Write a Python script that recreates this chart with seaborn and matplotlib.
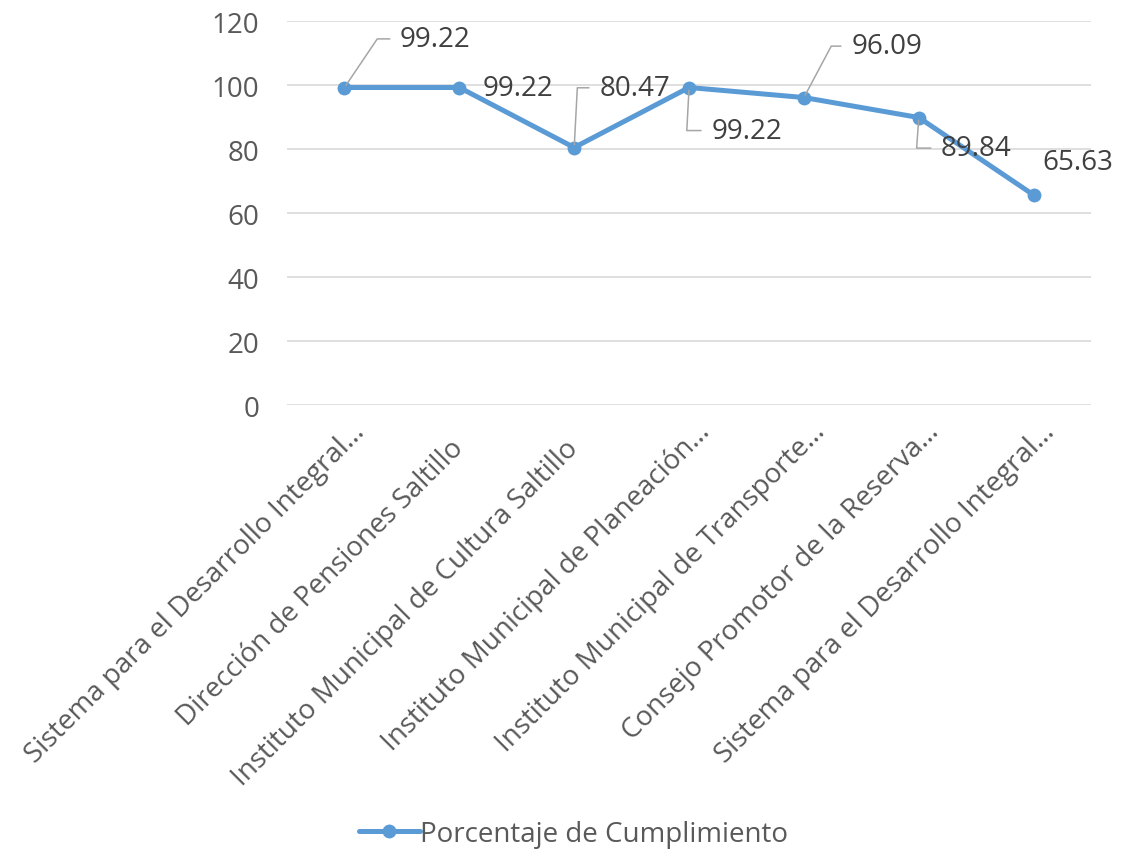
import numpy as np
import pandas as pd
import matplotlib
matplotlib.use("Agg")
import matplotlib.pyplot as plt
import matplotlib.transforms as mtransforms
import seaborn as sns

# data
categories = [
    "Sistema para el Desarrollo Integral…",
    "Dirección de Pensiones Saltillo",
    "Instituto Municipal de Cultura Saltillo",
    "Instituto Municipal de Planeación…",
    "Instituto Municipal de Transporte…",
    "Consejo Promotor de la Reserva…",
    "Sistema para el Desarrollo Integral…",
]
cumplimiento = [99.22, 99.22, 80.47, 99.22, 96.09, 89.84, 65.63]
series_name = "Porcentaje de Cumplimiento"
y_ticks = [0, 20, 40, 60, 80, 100, 120]

# label offsets in points and leader angle (None = no leader)
label_offsets = [(40, 35), (17, 0), (18, 43), (16, -31), (34, 37), (16, -22), (6, 24)]
leader_angles = [56, None, 87, 87, 62, 86, None]

sns.set_theme(style="whitegrid")
plt.rcParams["font.family"] = ["Open Sans", "DejaVu Sans"]

blue = "#5B9BD5"
txt = "#404040"
tick_col = "#595959"
grid_col = "#D9D9D9"

df = pd.DataFrame({"pos": np.arange(len(categories)), "valor": cumplimiento})

fig = plt.figure(figsize=(11.35, 8.53), dpi=100)
ax = fig.add_axes([0.2529, 0.5240, 0.7084, 0.4502])

sns.lineplot(data=df, x="pos", y="valor", ax=ax, color=blue, linewidth=3.6,
             marker="o", markersize=10, markeredgewidth=0, label=series_name,
             legend=False)

ax.set_xlim(-0.5, len(categories) - 0.5)
ax.set_ylim(0, 120)
ax.set_yticks(y_ticks)
ax.set_xticks(df["pos"])
ax.set_xticklabels(categories, rotation=45, ha="right", va="center",
                   rotation_mode="anchor")
ax.set_xlabel("")
ax.set_ylabel("")
ax.grid(axis="y", color=grid_col, linewidth=1.2)
ax.grid(axis="x", visible=False)
for s in ax.spines.values():
    s.set_visible(False)
ax.tick_params(axis="y", length=0, pad=20, labelsize=20, labelcolor=tick_col)
ax.tick_params(axis="x", length=0, pad=28, labelsize=20, labelcolor=tick_col)

# truncated labels (ending in an ellipsis) sit a bit further up-right
shift = mtransforms.ScaledTranslation(12 / 72, 12 / 72, fig.dpi_scale_trans)
for lbl in ax.get_xticklabels():
    if lbl.get_text().endswith("…"):
        lbl.set_transform(lbl.get_transform() + shift)

# data labels with Excel-style leader lines
for i, v in enumerate(cumplimiento):
    ang = leader_angles[i]
    props = None
    if ang is not None:
        props = dict(arrowstyle="-", color="#A6A6A6", lw=1.1,
                     connectionstyle=f"angle,angleA=0,angleB={ang},rad=0",
                     relpos=(0, 0.5), shrinkA=5, shrinkB=2)
    ax.annotate(f"{v:.2f}", xy=(i, v), xytext=label_offsets[i],
                textcoords="offset points", ha="left", va="center",
                fontsize=20, color=txt, arrowprops=props)

handles, labels = ax.get_legend_handles_labels()
fig.legend(handles, labels, loc="center", bbox_to_anchor=(0.505, 0.021),
           frameon=False, fontsize=20, labelcolor=tick_col,
           handlelength=2.2, handletextpad=0.0)

fig.savefig("out.png", dpi=100)
